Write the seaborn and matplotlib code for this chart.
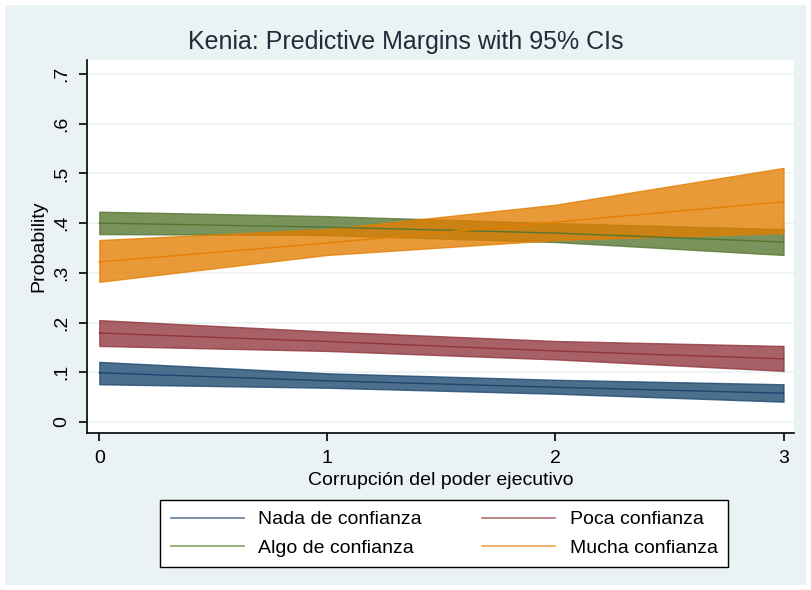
# Libraries
import numpy as np
import pandas as pd
import seaborn as sns
import matplotlib.pyplot as plt
from matplotlib.patches import Rectangle
from matplotlib.lines import Line2D

# Data
x = [0, 1, 2, 3]
categories = ['Nada de confianza', 'Poca confianza', 'Algo de confianza', 'Mucha confianza']

nada = [0.099, 0.083, 0.070, 0.058]
nada_lo = [0.076, 0.069, 0.057, 0.041]
nada_hi = [0.121, 0.098, 0.085, 0.076]

poca = [0.179, 0.162, 0.143, 0.127]
poca_lo = [0.153, 0.143, 0.126, 0.103]
poca_hi = [0.205, 0.182, 0.163, 0.153]

algo = [0.400, 0.392, 0.380, 0.362]
algo_lo = [0.378, 0.376, 0.362, 0.336]
algo_hi = [0.423, 0.414, 0.400, 0.388]

mucha = [0.322, 0.360, 0.402, 0.443]
mucha_lo = [0.282, 0.336, 0.366, 0.380]
mucha_hi = [0.366, 0.388, 0.437, 0.511]

colors = ['#1a476f', '#90353b', '#55752f', '#e37e00']

df = pd.DataFrame({
    'x': x * 4,
    'p': nada + poca + algo + mucha,
    'lo': nada_lo + poca_lo + algo_lo + mucha_lo,
    'hi': nada_hi + poca_hi + algo_hi + mucha_hi,
    'cat': np.repeat(categories, len(x)),
})

plt.rcParams['font.family'] = ['Liberation Sans', 'DejaVu Sans']
fig = plt.figure(figsize=(8.11, 5.90), dpi=100, facecolor='white')
fig.patches.append(Rectangle((5 / 811, 5 / 590), 1 - 10 / 811, 1 - 10 / 590,
                             transform=fig.transFigure, facecolor='#eaf2f3',
                             edgecolor='none', zorder=-10))
ax = fig.add_axes([87 / 811, 1 - 433 / 590, (794 - 87) / 811, (433 - 60) / 590])
ax.set_facecolor('white')

# CI bands
for cat, c in zip(categories, colors):
    d = df[df['cat'] == cat]
    ax.fill_between(d['x'], d['lo'], d['hi'], color=c, alpha=0.78, lw=1,
                    edgecolor=c, zorder=2)

# Point estimates
sns.lineplot(data=df, x='x', y='p', hue='cat', palette=colors, legend=False,
             lw=1, ax=ax, zorder=3)

ax.set_xlim(-0.054, 3.046)
ax.set_ylim(-0.022, 0.728)
ax.set_xticks([0, 1, 2, 3])
ax.set_yticks(np.arange(0, 0.71, 0.1))
ax.set_yticklabels(['0', '.1', '.2', '.3', '.4', '.5', '.6', '.7'], rotation=90, va='center')
ax.grid(axis='y', color='#eaf2f3', lw=1.2, zorder=0)
ax.set_axisbelow(True)
for s in ['top', 'right']:
    ax.spines[s].set_visible(False)
for s in ['left', 'bottom']:
    ax.spines[s].set_linewidth(1.2)
ax.tick_params(length=6, width=1.2, labelsize=14, pad=6, colors='black')
ax.set_xlabel('Corrupción del poder ejecutivo', fontsize=14, labelpad=4)
ax.set_ylabel('Probability', fontsize=14, labelpad=4)
fig.suptitle('Kenia: Predictive Margins with 95% CIs', y=1 - 42 / 590, va='center',
             fontsize=18, color='#1e2d3c')

# legend filled row-wise like Stata
order = [0, 2, 1, 3]
handles = [Line2D([], [], color=colors[i], lw=1.2, alpha=0.7) for i in order]
labels = [categories[i] for i in order]
fig.legend(handles, labels, loc='upper left', ncol=2,
           bbox_to_anchor=(160 / 811, 1 - 500 / 590),
           frameon=True, fancybox=False, edgecolor='black', framealpha=1,
           fontsize=14, handlelength=3.75, handletextpad=0.75, columnspacing=3.1,
           labelspacing=0.55, borderpad=0.55, borderaxespad=0)

plt.savefig('out.png', dpi=100, facecolor='white')
